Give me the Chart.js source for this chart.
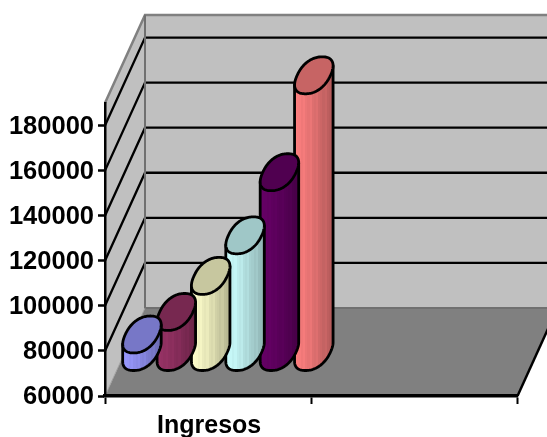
<!DOCTYPE html>
<html>
<head>
<meta charset="utf-8">
<title>Ingresos</title>
<style>
  html, body { margin: 0; padding: 0; background: #fff; }
  canvas { display: block; }
</style>
<script src="https://cdn.jsdelivr.net/npm/chart.js@4"></script>
</head>
<body>
<canvas id="chart" width="547" height="437"></canvas>
<script>
// Values and labels
const categories = ['Ingresos', ''];
const seriesNames = ['Serie 1', 'Serie 2', 'Serie 3', 'Serie 4', 'Serie 5', 'Serie 6'];
const serieValues = [68000, 78000, 94000, 112000, 140000, 183000];
const serieColors = ['#9999FF', '#993366', '#FFFFCC', '#CCFFFF', '#660066', '#FF8080'];
const tickValues = [60000, 80000, 100000, 120000, 140000, 160000, 180000];
const axisMin = 60000;
const axisMax = 190000;

// Depth of the oblique box, in pixels
const DEPTH_X = 40;
const DEPTH_Y = 88;
// Share of the depth at which the cylinders stand
const MID_DEPTH = 0.494;
const LINE = 2;
// Squareness of the cylinder outline (1 is a true ellipse)
const ROUNDNESS = 0.88;

// Brightness of the vertical facets across a cylinder, left to right
const facetShades = [1.0, 0.98, 0.97, 0.94, 0.96, 0.92, 0.9, 0.92, 0.87, 0.85, 0.87, 0.82, 0.8, 0.77, 0.79, 0.74, 0.72, 0.68];

function shade(hex, k) {
  const n = parseInt(hex.slice(1), 16);
  const c = [(n >> 16) & 255, (n >> 8) & 255, n & 255].map(v => Math.round(v * k));
  return `rgb(${c[0]},${c[1]},${c[2]})`;
}

// Bars are rendered as upright cylinders set into the box
Chart.BarElement.prototype.draw = function (ctx) {
  const fill = this.options.backgroundColor;
  const rx = this.width / 2 * 0.97;
  const by = DEPTH_Y * MID_DEPTH * 0.425;
  const bx = by * DEPTH_X / DEPTH_Y;
  const cx = this.x + DEPTH_X * MID_DEPTH;
  const yTop = this.y - DEPTH_Y * MID_DEPTH;
  const yBase = this.base - DEPTH_Y * MID_DEPTH;
  const pow = v => Math.sign(v) * Math.pow(Math.abs(v), ROUNDNESS);

  // Outline of one disc, relative to its centre
  const disc = [];
  for (let i = 0; i < 128; i++) {
    const t = 2 * Math.PI * i / 128;
    const u = pow(Math.cos(t)), v = pow(Math.sin(t));
    disc.push([rx * u + bx * v, -by * v]);
  }
  // Silhouette points: the widest left and right points of the disc
  let iL = 0, iR = 0;
  disc.forEach((p, i) => {
    if (p[0] < disc[iL][0]) iL = i;
    if (p[0] > disc[iR][0]) iR = i;
  });

  ctx.save();
  ctx.lineJoin = 'round';
  ctx.lineWidth = 2.8;
  ctx.strokeStyle = '#000';

  // Body: down the left silhouette, around the near half of the base, up the right side
  const left = cx + disc[iL][0], right = cx + disc[iR][0];
  const grad = ctx.createLinearGradient(left, 0, right, 0);
  facetShades.forEach((k, i) => {
    grad.addColorStop(i / facetShades.length, shade(fill, k));
    grad.addColorStop((i + 1) / facetShades.length, shade(fill, k));
  });
  ctx.beginPath();
  ctx.moveTo(left, yTop + disc[iL][1]);
  for (let i = iL; ; i = (i + 1) % disc.length) {
    ctx.lineTo(cx + disc[i][0], yBase + disc[i][1]);
    if (i === iR) break;
  }
  ctx.lineTo(right, yTop + disc[iR][1]);
  ctx.closePath();
  ctx.fillStyle = grad;
  ctx.fill();
  ctx.stroke();

  // Cap
  ctx.beginPath();
  disc.forEach((p, i) => {
    if (i === 0) ctx.moveTo(cx + p[0], yTop + p[1]);
    else ctx.lineTo(cx + p[0], yTop + p[1]);
  });
  ctx.closePath();
  ctx.fillStyle = shade(fill, 0.78);
  ctx.fill();
  ctx.stroke();
  ctx.restore();
};

// Walls, floor and wall gridlines of the box, placed from the axis scales
const boxPlugin = {
  id: 'box',
  beforeDraw(chart) {
    const { ctx, chartArea: a, scales: { y } } = chart;
    const L = a.left, R = a.right, T = a.top, B = a.bottom;
    const poly = (pts, fill, stroke, width) => {
      ctx.beginPath();
      pts.forEach((p, i) => i ? ctx.lineTo(p[0], p[1]) : ctx.moveTo(p[0], p[1]));
      if (fill) { ctx.fillStyle = fill; ctx.fill(); }
      if (stroke) { ctx.strokeStyle = stroke; ctx.lineWidth = width; ctx.stroke(); }
    };
    ctx.save();
    ctx.lineCap = 'butt';
    // Floor
    poly([[L, B], [R, B], [R + DEPTH_X, B - DEPTH_Y], [L + DEPTH_X, B - DEPTH_Y]], '#808080');
    // Back and side walls
    poly([[L + DEPTH_X, T - DEPTH_Y], [R + DEPTH_X, T - DEPTH_Y], [R + DEPTH_X, B - DEPTH_Y], [L + DEPTH_X, B - DEPTH_Y]], '#C0C0C0');
    poly([[L, B], [L, T], [L + DEPTH_X, T - DEPTH_Y], [L + DEPTH_X, B - DEPTH_Y]], '#C0C0C0');
    // Gridlines
    y.ticks.forEach(t => {
      if (t.value === axisMin) return;
      const py = y.getPixelForValue(t.value);
      poly([[L, py], [L + DEPTH_X, py - DEPTH_Y], [R + DEPTH_X, py - DEPTH_Y]], null, '#000', LINE + 0.3);
    });
    // Edges of the box
    poly([[L, T], [L + DEPTH_X, T - DEPTH_Y], [R + DEPTH_X, T - DEPTH_Y]], null, '#808080', LINE + 0.5);
    poly([[L + DEPTH_X, T - DEPTH_Y], [L + DEPTH_X, B - DEPTH_Y], [R + DEPTH_X, B - DEPTH_Y]], null, '#707070', LINE);
    poly([[L, B], [L + DEPTH_X, B - DEPTH_Y]], null, '#A0A0A0', 1);
    poly([[R, B], [R + DEPTH_X, B - DEPTH_Y]], null, '#000', LINE + 0.5);
    ctx.restore();
  }
};

const yFont = { family: '"Liberation Sans", Arial, sans-serif', size: 25.5, weight: 'bold' };
const xFont = { family: '"Liberation Sans", Arial, sans-serif', size: 25, weight: 'bold' };

new Chart(document.getElementById('chart'), {
  type: 'bar',
  data: {
    labels: categories,
    datasets: seriesNames.map((name, i) => ({
      label: name,
      data: [serieValues[i], null],
      backgroundColor: serieColors[i],
      base: axisMin,
      clip: false
    }))
  },
  options: {
    responsive: false,
    animation: false,
    layout: { padding: { left: 0, right: 29.5, top: 103, bottom: 0 } },
    plugins: { legend: { display: false }, tooltip: { enabled: false } },
    datasets: { bar: { barPercentage: 1, categoryPercentage: 1 } },
    scales: {
      x: {
        afterFit(scale) { scale.height = 41; },
        border: { color: '#000', width: 3.5 },
        grid: { display: true, drawOnChartArea: false, color: '#000', tickColor: '#000', tickWidth: 2, tickLength: 8 },
        ticks: { color: '#000', font: xFont, padding: 7, labelOffset: 1, maxRotation: 0, autoSkip: false }
      },
      y: {
        min: axisMin,
        max: axisMax,
        afterFit(scale) { scale.width = 105; },
        afterBuildTicks(scale) { scale.ticks = tickValues.map(value => ({ value })); },
        border: { color: '#000', width: 2.5 },
        grid: { display: true, drawOnChartArea: false, color: '#000', tickColor: '#000', tickWidth: 2.5, tickLength: 7 },
        ticks: { color: '#000', font: yFont, padding: 4, labelOffset: 1, callback: v => String(v) }
      }
    }
  },
  plugins: [boxPlugin]
});
</script>
</body>
</html>
